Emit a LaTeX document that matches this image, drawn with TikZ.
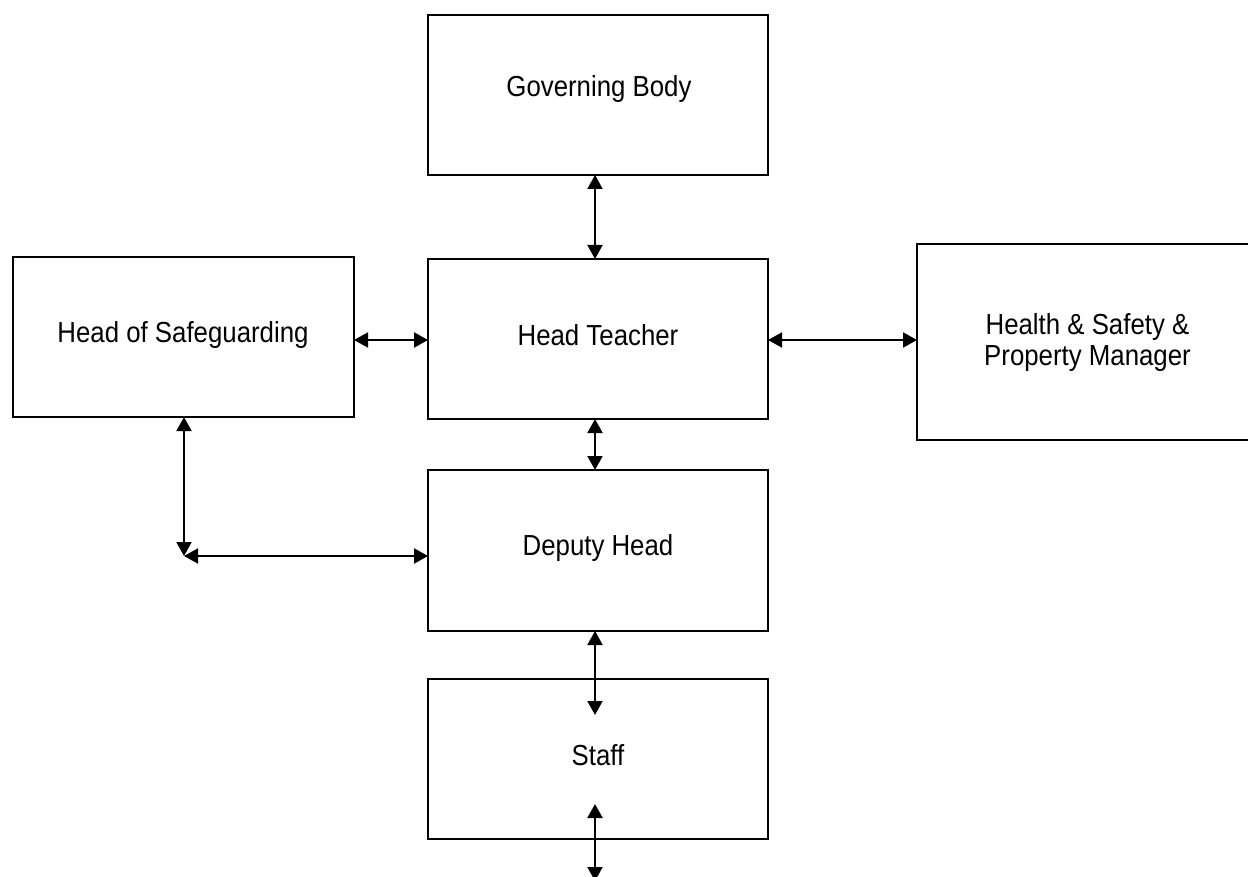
\documentclass[tikz,border=0pt]{standalone}
\usepackage{fontspec}
\setmainfont{Liberation Sans}[FakeStretch=0.89]
\usetikzlibrary{arrows.meta}
\begin{document}
\begin{tikzpicture}[x=1pt,y=-1pt,
  box/.style={draw=black,line width=1.5pt,inner sep=0pt,outer sep=0pt,fill=white},
  lbl/.style={anchor=base,inner sep=0pt,font=\fontsize{29}{31}\selectfont,align=center},
  arr/.style={line width=2pt,{Triangle[length=14pt,width=15pt]}-{Triangle[length=14pt,width=15pt]}}]
\useasboundingbox (0,0) rectangle (1248,877);
\clip (0,0) rectangle (1248,877);
\fill[white] (0,0) rectangle (1248,877);
% boxes
\node[box,minimum width=340pt,minimum height=160pt] (gb) at (598,95) {};
\node[box,minimum width=340pt,minimum height=160pt] (ht) at (598,339) {};
\node[box,minimum width=341pt,minimum height=160pt] (hs) at (183.5,337) {};
\node[box,minimum width=341pt,minimum height=196pt] (hsp) at (1087.5,342) {};
\node[box,minimum width=340pt,minimum height=161pt] (dh) at (598,550.5) {};
\node[box,minimum width=340pt,minimum height=160pt] (st) at (598,759) {};
% labels
\node[lbl] (tgb) at (599,97) {Governing Body};
\node[lbl] (tht) at (598,345) {Head Teacher};
\node[lbl] (ths) at (183,343) {Head of Safeguarding};
\node[lbl] (thsp1) at (1087.5,335) {Health \& Safety \&};
\node[lbl] (thsp2) at (1087.5,366) {Property Manager};
\node[lbl] (tdh) at (598,555) {Deputy Head};
\node[lbl] (tst) at (598,765) {Staff};
% helper coordinates
\coordinate (cx) at (595,0);
\coordinate (sx) at (184,0);
\coordinate (ry) at (0,340);
\coordinate (corner) at (184,556);
\coordinate (dsend) at (595,715);
\coordinate (sb1) at (595,804);
\coordinate (sb2) at (595,881);
% connectors
\draw[arr] (gb.south -| cx) -- (ht.north -| cx);
\draw[arr] (hs.east |- ry) -- (ht.west |- ry);
\draw[arr] (ht.east |- ry) -- (hsp.west |- ry);
\draw[arr] (ht.south -| cx) -- (dh.north -| cx);
\draw[arr] (hs.south -| sx) -- (corner);
\draw[arr] (corner) -- (dh.west |- corner);
\draw[arr] (dh.south -| cx) -- (dsend);
\draw[arr] (sb1) -- (sb2);
\end{tikzpicture}
\end{document}
